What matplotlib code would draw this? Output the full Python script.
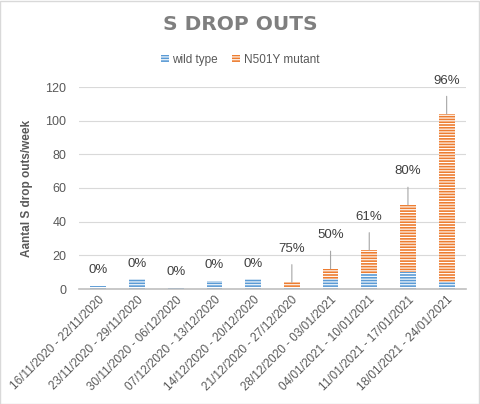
import matplotlib
matplotlib.use("Agg")
import matplotlib.pyplot as plt
import numpy as np
from matplotlib.patches import Rectangle

plt.rcParams['font.family'] = ['Liberation Sans', 'DejaVu Sans']
plt.rcParams['hatch.linewidth'] = 0.8

weeks = ["16/11/2020 - 22/11/2020", "23/11/2020 - 29/11/2020", "30/11/2020 - 06/12/2020",
         "07/12/2020 - 13/12/2020", "14/12/2020 - 20/12/2020", "21/12/2020 - 27/12/2020",
         "28/12/2020 - 03/01/2021", "04/01/2021 - 10/01/2021", "11/01/2021 - 17/01/2021",
         "18/01/2021 - 24/01/2021"]
wild_type = [2, 6, 1, 5, 6, 1, 6, 9, 10, 4]
mutant = [0, 0, 0, 0, 0, 3, 6, 14, 40, 100]
pct_labels = ["0%", "0%", "0%", "0%", "0%", "75%", "50%", "61%", "80%", "96%"]
yticks = [0, 20, 40, 60, 80, 100, 120]

blue = '#5B9BD5'
orange = '#ED7D31'
txt = '#595959'

fig = plt.figure(figsize=(4.8, 4.04), dpi=100)
fig.patches.append(Rectangle((0.001, 0.001), 0.997, 0.997, transform=fig.transFigure,
                             fill=False, edgecolor='#D9D9D9', linewidth=1))
ax = fig.add_axes([79/480, 1-289/404, (466-79)/480, (289-87)/404])

x = np.arange(len(weeks))
w = 0.41
ax.bar(x, wild_type, w, color=blue, edgecolor='white', linewidth=0, hatch='------', zorder=3,
       label='wild type')
ax.bar(x, mutant, w, bottom=wild_type, color=orange, edgecolor='white', linewidth=0,
       hatch='------', zorder=3, label='N501Y mutant')

for i in range(len(weeks)):
    total = wild_type[i] + mutant[i]
    if mutant[i] > 0:
        ax.annotate(pct_labels[i], xy=(x[i], total), xytext=(0, 24), textcoords='offset points',
                    ha='center', va='center', fontsize=9.5, color='#404040',
                    arrowprops=dict(arrowstyle='-', color='#A6A6A6', lw=0.8, shrinkA=5, shrinkB=0))
    else:
        ax.annotate(pct_labels[i], xy=(x[i], total), xytext=(0, 11), textcoords='offset points',
                    ha='center', va='center', fontsize=9.5, color='#404040')

ax.set_ylim(0, 120)
ax.set_xlim(-0.5, len(weeks) - 0.5)
ax.set_yticks(yticks)
ax.yaxis.grid(True, color='#D9D9D9', linewidth=0.8, zorder=0)
ax.set_axisbelow(True)
for s in ['top', 'right', 'left']:
    ax.spines[s].set_visible(False)
ax.spines['bottom'].set_color('#BFBFBF')
ax.spines['bottom'].set_linewidth(1.2)
ax.spines['bottom'].set_zorder(4)
ax.tick_params(axis='both', length=0, colors=txt, labelsize=9)
ax.tick_params(axis='y', pad=9)
ax.set_xticks(x)
ax.set_xticklabels(weeks, rotation=45, ha='right', rotation_mode='anchor', fontsize=8.5)
ax.set_ylabel('Aantal S drop outs/week', fontsize=8.5, fontweight='bold', color=txt, labelpad=9)

fig.text(0.5, 1-25/404, 'S DROP OUTS', ha='center', va='center', fontsize=14.5,
         fontweight='bold', color='#7F7F7F', family='DejaVu Sans')
leg = fig.legend(loc='center', bbox_to_anchor=(0.5, 1-60/404), ncol=2, frameon=False,
                 fontsize=8.5, handlelength=0.7, handleheight=0.7, columnspacing=1.2,
                 handletextpad=0.3, labelcolor=txt)

fig.savefig('out.png', dpi=100)
